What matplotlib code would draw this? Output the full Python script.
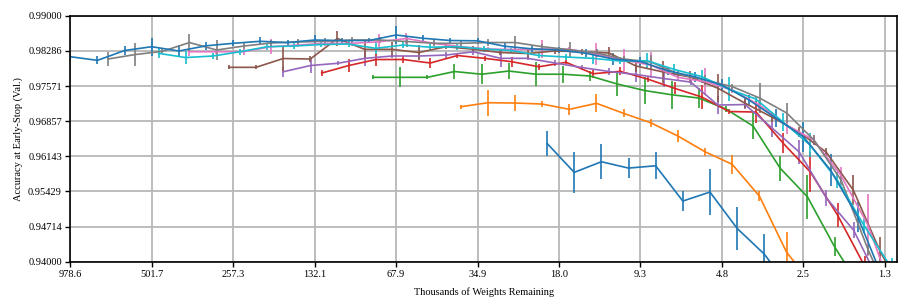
import numpy as np
import matplotlib
matplotlib.use("Agg")
import matplotlib.pyplot as plt

plt.rcParams['font.family'] = ['Liberation Serif', 'DejaVu Serif']
plt.rcParams['font.size'] = 7.5

# x tick labels: thousands of weights remaining, every third pruning round
x_labels = ['978.6', '501.7', '257.3', '132.1', '67.9', '34.9', '18.0',
            '9.3', '4.8', '2.5', '1.3']
y_ticks = [0.94, 0.94714, 0.95429, 0.96143, 0.96857, 0.97571, 0.98286, 0.99]

# each network starts at a different size (first round, in rounds of the largest net)
start_blue_s = 17.56
acc_blue_s = [0.96406, 0.95817, 0.96033, 0.95904, 0.95951, 0.95234, 0.95417,
              0.94679, 0.94157, 0.93425]
err_blue_s = [0.0026, 0.0042, 0.0036, 0.0020, 0.0027, 0.0021, 0.0046, 0.0044,
              0.0041, 0.004]

start_orange = 14.38
acc_orange = [0.9715, 0.97232, 0.97226, 0.97205, 0.97098, 0.9722, 0.97016,
              0.96825, 0.96555, 0.96236, 0.9598, 0.95335, 0.94197, 0.9350]
err_orange = [0.0004, 0.0026, 0.0017, 0.0006, 0.0011, 0.0018, 0.0008, 0.0008,
              0.0013, 0.0008, 0.002, 0.001, 0.004, 0.003]

start_green = 11.15
acc_green = [0.97748, 0.97748, 0.97748, 0.97866, 0.97811, 0.97876, 0.97811,
             0.97811, 0.97774, 0.97612, 0.9748, 0.97394, 0.97327, 0.97104,
             0.96758, 0.95898, 0.95321, 0.94305, 0.9343]
err_green = [0.0004, 0.002, 0.0004, 0.0015, 0.002, 0.0016, 0.0024, 0.0017,
             0.001, 0.0025, 0.0027, 0.0028, 0.002, 0.0006, 0.0027, 0.0025,
             0.0045, 0.0019, 0.003]

start_red = 9.26
acc_red = [0.97835, 0.97988, 0.9811, 0.9811, 0.98039, 0.98191, 0.98134,
           0.98065, 0.97963, 0.98053, 0.97821, 0.9787, 0.97713, 0.97524,
           0.97348, 0.97053, 0.97043, 0.96407, 0.95823, 0.94949, 0.9391, 0.930]
err_red = [0.0006, 0.0014, 0.0014, 0.0007, 0.001, 0.0006, 0.0005, 0.001,
           0.0006, 0.0005, 0.0008, 0.0008, 0.0007, 0.0012, 0.0024, 0.0006,
           0.0022, 0.002, 0.0041, 0.0024, 0.002, 0.002]

start_purple = 7.85
acc_purple = [0.97862, 0.97988, 0.98033, 0.98134, 0.98181, 0.98181, 0.98201,
              0.98268, 0.98134, 0.98134, 0.98039, 0.97947, 0.97866, 0.97805,
              0.97724, 0.97652, 0.97185, 0.97195, 0.96717, 0.9623, 0.95295,
              0.94644, 0.9353]
err_purple = [0.001, 0.0015, 0.0004, 0.0015, 0.0004, 0.0006, 0.0006, 0.0007,
              0.0017, 0.0004, 0.0006, 0.0006, 0.0008, 0.0015, 0.0018, 0.0006,
              0.0018, 0.001, 0.0018, 0.0024, 0.0016, 0.0016, 0.0016]

start_brown = 5.84
acc_brown = [0.97951, 0.97951, 0.9813, 0.9812, 0.98537, 0.98317, 0.98317,
             0.98252, 0.9837, 0.98319, 0.98252, 0.98232, 0.98283, 0.98268,
             0.98242, 0.97978, 0.97856, 0.97754, 0.9753, 0.97226, 0.96941,
             0.96636, 0.9623, 0.95457, 0.94197, 0.9322]
err_brown = [0.0004, 0.0004, 0.0025, 0.0006, 0.0016, 0.0018, 0.0015, 0.0015,
             0.0004, 0.0006, 0.0006, 0.001, 0.0006, 0.0006, 0.0012, 0.0012,
             0.0022, 0.0012, 0.0028, 0.001, 0.001, 0.001, 0.0008, 0.003,
             0.003, 0.003]

start_pink = 4.38
acc_pink = [0.98268, 0.98268, 0.98268, 0.9837, 0.98404, 0.98439, 0.98439,
            0.98472, 0.98537, 0.98439, 0.9837, 0.98323, 0.98313, 0.98323,
            0.98317, 0.98222, 0.981, 0.97998, 0.97748, 0.97659, 0.9749,
            0.97185, 0.96778, 0.96474, 0.95758, 0.94746, 0.9322]
err_pink = [0.0008, 0.0004, 0.0006, 0.0015, 0.0004, 0.0006, 0.0006, 0.0015,
            0.0012, 0.0004, 0.0004, 0.0004, 0.0004, 0.0018, 0.0004, 0.0022,
            0.0022, 0.0026, 0.0008, 0.0028, 0.0006, 0.001, 0.0018, 0.001,
            0.0016, 0.0063, 0.002]

start_gray = 1.39
acc_gray = [0.9812, 0.98211, 0.98276, 0.98455, 0.98303, 0.98384, 0.98445,
            0.98465, 0.9848, 0.98506, 0.98506, 0.98476, 0.98439, 0.98439,
            0.98455, 0.98455, 0.9837, 0.98309, 0.98242, 0.9812, 0.98059,
            0.97815, 0.97693, 0.97557, 0.97327, 0.97022, 0.96474, 0.9566,
            0.94238, 0.9302]
err_gray = [0.0014, 0.0024, 0.0006, 0.0017, 0.002, 0.0006, 0.0006, 0.0006,
            0.0006, 0.0006, 0.0006, 0.0012, 0.0006, 0.0006, 0.0008, 0.0014,
            0.0006, 0.0016, 0.0008, 0.0006, 0.0014, 0.0006, 0.001, 0.0006,
            0.003, 0.002, 0.001, 0.001, 0.001, 0.001]

start_cyan = 3.25
acc_cyan = [0.98236, 0.9815, 0.98181, 0.98268, 0.9837, 0.98384, 0.98415,
            0.98425, 0.98337, 0.98404, 0.9836, 0.9837, 0.98323, 0.98293,
            0.98191, 0.98161, 0.98134, 0.98079, 0.98085, 0.97907, 0.97764,
            0.9751, 0.97307, 0.9684, 0.96372, 0.9566, 0.94726, 0.93872]
err_cyan = [0.001, 0.0013, 0.0006, 0.0006, 0.0006, 0.0006, 0.0006, 0.0006,
            0.0012, 0.0006, 0.0006, 0.0006, 0.0006, 0.0006, 0.0006, 0.0006,
            0.0012, 0.0006, 0.0015, 0.0012, 0.0013, 0.0024, 0.0006, 0.0018,
            0.0024, 0.0016, 0.0015, 0.002]

start_blue = 0.0
acc_blue = [0.98167, 0.98093, 0.98293, 0.9837, 0.98283, 0.98388, 0.98439,
            0.9848, 0.98455, 0.98506, 0.98496, 0.98496, 0.98608, 0.98541,
            0.98496, 0.9849, 0.9838, 0.98327, 0.98303, 0.98236, 0.9812,
            0.98069, 0.97882, 0.9776, 0.97591, 0.97287, 0.96915, 0.96541,
            0.95864, 0.94915, 0.93567]
err_blue = [0.0006, 0.0008, 0.0009, 0.0018, 0.0013, 0.0008, 0.0006, 0.0008,
            0.0006, 0.001, 0.0006, 0.0006, 0.0018, 0.0006, 0.0006, 0.0006,
            0.0006, 0.0006, 0.0006, 0.0008, 0.0012, 0.001, 0.0008, 0.001,
            0.0013, 0.001, 0.0018, 0.003, 0.0032, 0.003, 0.002]

series = [
    (start_blue_s, acc_blue_s, err_blue_s, '#1f77b4'),
    (start_orange, acc_orange, err_orange, '#ff7f0e'),
    (start_green, acc_green, err_green, '#2ca02c'),
    (start_red, acc_red, err_red, '#d62728'),
    (start_purple, acc_purple, err_purple, '#9467bd'),
    (start_brown, acc_brown, err_brown, '#8c564b'),
    (start_pink, acc_pink, err_pink, '#e377c2'),
    (start_gray, acc_gray, err_gray, '#7f7f7f'),
    (start_cyan, acc_cyan, err_cyan, '#17becf'),
    (start_blue, acc_blue, err_blue, '#1f77b4'),
]

fig = plt.figure(figsize=(9.13, 3.08), dpi=100)
ax = fig.add_axes([0.077, 0.150, 0.9055, 0.799])

for start, acc, err, color in series:
    x = start + np.arange(len(acc))
    ax.errorbar(x, acc, yerr=err, color=color, lw=1.2, elinewidth=1.2,
                capsize=0)

ax.set_xlim(0, 30.45)
ax.set_ylim(0.94, 0.99)
ax.set_xticks(np.arange(0, 31, 3))
ax.set_xticklabels(x_labels)
ax.set_yticks(y_ticks)
ax.set_yticklabels(['%.5f' % v for v in y_ticks])
ax.grid(True, color='#b8b8b8', lw=1.3)
ax.set_axisbelow(True)
ax.tick_params(length=3.5, width=1, color='black', pad=2.5)
for s in ax.spines.values():
    s.set_linewidth(1.2)
    s.set_color('black')

ax.set_xlabel('Thousands of Weights Remaining', labelpad=6)
ax.set_ylabel('Accuracy at Early-Stop (Val.)', labelpad=4)

fig.savefig('out.png', dpi=100)
